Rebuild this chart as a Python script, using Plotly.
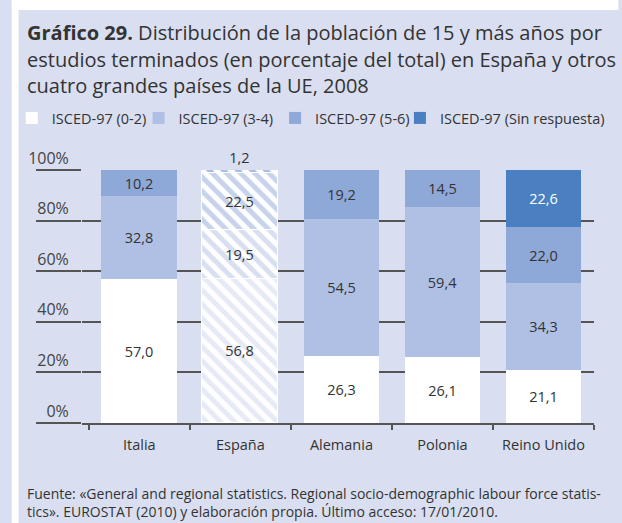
import plotly.graph_objects as go

categories = ["Italia", "España", "Alemania", "Polonia", "Reino Unido"]
series_names = ["ISCED-97 (0-2)", "ISCED-97 (3-4)", "ISCED-97 (5-6)", "ISCED-97 (Sin respuesta)"]
isced_02 = [57.0, 56.8, 26.3, 26.1, 21.1]
isced_34 = [32.8, 19.5, 54.5, 59.4, 34.3]
isced_56 = [10.2, 22.5, 19.2, 14.5, 22.0]
isced_sr = [None, 1.2, 0.1, None, 22.6]
y_ticks = [0, 20, 40, 60, 80, 100]

W, H = 622, 523
L, R, T, B = 72, 25, 170, 100
PW, PH = W - L - R, H - T - B
FONT = "Open Sans"
BG = "#d9dff0"
GRID = "#555555"
TXT = "#333333"

colors = ["#ffffff", "#b0c0e4", "#8ea8d8", "#4a7fc1"]
stripe_fg = ["#cdd6ee", "#b0c0e4", "#8ea8d8", "#4a7fc1"]
series = [isced_02, isced_34, isced_56, isced_sr]
text_colors = [TXT, TXT, TXT, "#ffffff"]

def fmt(v):
    return "" if v is None else f"{v:.1f}".replace(".", ",")

def px_x(p):
    return (p - L) / PW

def px_y(p):
    return (H - B - p) / PH

fig = go.Figure()
legend_ids = ["legend", "legend2", "legend3", "legend4"]
for i, (name, vals) in enumerate(zip(series_names, series)):
    shapes = ["\\" if c == "España" else "" for c in categories]
    if i == 3:
        tpos = ["none", "outside", "outside", "none", "inside"]
    else:
        tpos = "inside"
    fig.add_trace(go.Bar(
        x=categories, y=vals, name=name,
        width=0.75,
        marker=dict(color=colors[i], line=dict(width=[0, 1, 0, 0, 0], color="white"),
                    pattern=dict(shape=shapes, bgcolor="white", fgcolor=stripe_fg[i],
                                 size=10, solidity=0.5)),
        text=[fmt(v) for v in vals],
        textposition=tpos,
        insidetextanchor="middle",
        textangle=0,
        insidetextfont=dict(family=FONT, size=14.5, color=text_colors[i]),
        outsidetextfont=dict(family=FONT, size=14.5, color=TXT),
        cliponaxis=False,
        hoverinfo="skip",
        legend=legend_ids[i],
    ))

legend_left = [0, 130, 270, 398]
layout_legends = {}
for i, lid in enumerate(legend_ids):
    layout_legends[lid] = dict(x=px_x(legend_left[i]), y=px_y(102), xanchor="left", yanchor="top",
                               orientation="h", bgcolor="rgba(0,0,0,0)",
                               font=dict(family=FONT, size=14.5, color=TXT))

fig.update_layout(
    width=W, height=H,
    margin=dict(l=L, r=R, t=T, b=B),
    paper_bgcolor=BG, plot_bgcolor=BG,
    barmode="stack",
    bargap=0,
    showlegend=True,
    separators=",.",
    font=dict(family=FONT, size=14, color=TXT),
    **layout_legends,
)
fig.update_xaxes(
    type="category",
    range=[-0.5 - 7 / 103.6, 4.5],
    showline=True, linecolor=GRID, linewidth=1.5,
    ticks="outside", tickson="boundaries", ticklen=5, tickcolor=GRID, tickwidth=1.5,
    showgrid=False,
    tickfont=dict(family=FONT, size=14.5, color=TXT),
    ticklabelstandoff=8,
)
fig.update_yaxes(
    range=[0, 100],
    tickvals=y_ticks, ticktext=[f"{v}%" for v in y_ticks],
    showgrid=True, gridcolor=GRID, gridwidth=1.5,
    zeroline=False, showline=False,
    ticks="outside", ticklen=45, tickcolor=GRID, tickwidth=1.5,
    ticklabelposition="outside top",
    ticklabelstandoff=9,
    tickfont=dict(family=FONT, size=16, color="#444444"),
)

# white outer margins of the framed panel
fig.add_shape(type="rect", xref="paper", yref="paper", x0=px_x(0), x1=px_x(7), y0=px_y(H), y1=px_y(0),
              fillcolor="white", line_width=0, layer="above")
fig.add_shape(type="rect", xref="paper", yref="paper", x0=px_x(0), x1=px_x(W), y0=px_y(10), y1=px_y(0),
              fillcolor="white", line_width=0, layer="above")

title_lines = [
    "<b>Gráfico 29.</b> Distribución de la población de 15 y más años por",
    "estudios terminados (en porcentaje del total) en España y otros",
    "cuatro grandes países de la UE, 2008",
]
for k, line in enumerate(title_lines):
    fig.add_annotation(text=line, xref="paper", yref="paper", x=px_x(14), y=px_y(32 + 27 * k),
                       xanchor="left", yanchor="middle", showarrow=False,
                       font=dict(family=FONT, size=20, color="#333333"))

foot_lines = [
    "Fuente: «General and regional statistics. Regional socio-demographic labour force statis-",
    "tics». EUROSTAT (2010) y elaboración propia. Último acceso: 17/01/2010.",
]
for k, line in enumerate(foot_lines):
    fig.add_annotation(text=line, xref="paper", yref="paper", x=px_x(14), y=px_y(493 + 18 * k),
                       xanchor="left", yanchor="middle", showarrow=False,
                       font=dict(family=FONT, size=14, color="#333333"))

fig.write_html(
    "out.html", config={"displayModeBar": False},
    post_script=("document.body.style.margin='0px';document.body.style.overflow='hidden';"
                 "document.documentElement.style.overflow='hidden';"
                 "document.documentElement.style.background='" + BG + "';"
                 "document.body.style.background='" + BG + "';"),
)
